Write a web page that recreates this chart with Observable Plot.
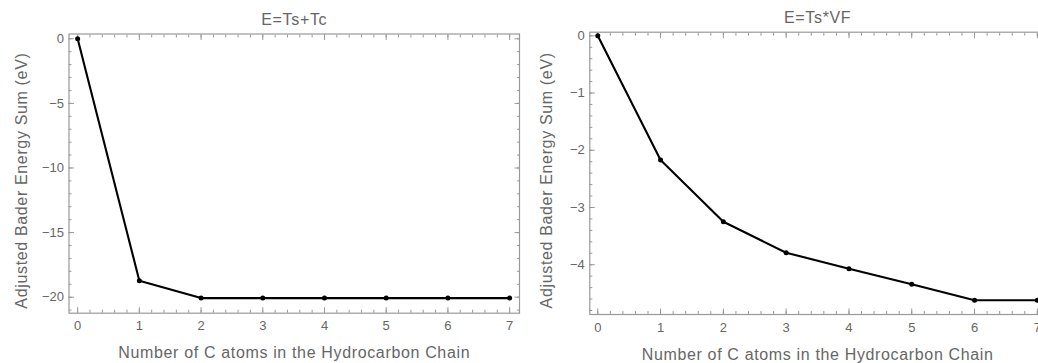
<!DOCTYPE html>
<html>
<head>
<meta charset="utf-8">
<script src="https://cdn.jsdelivr.net/npm/d3@7"></script>
<script src="https://cdn.jsdelivr.net/npm/@observablehq/plot@0.6"></script>
<style>
  html, body { margin: 0; padding: 0; background: #fff; overflow: hidden; }
  #wrap { position: relative; width: 1038px; height: 363px; overflow: hidden; }
  #wrap > div, #wrap > svg { position: absolute; top: 0; }
</style>
</head>
<body>
<div id="wrap"></div>
<script>
// ---- data ----
const carbonAtoms = [0, 1, 2, 3, 4, 5, 6, 7];
const energyTsTc = [0, -18.73, -20.07, -20.07, -20.07, -20.07, -20.07, -20.07];
const energyTsVF = [0, -2.17, -3.25, -3.79, -4.07, -4.34, -4.62, -4.62];
const titles = ["E=Ts+Tc", "E=Ts*VF"];
const xLabel = "Number of C atoms in the Hydrocarbon Chain";
const yLabel = "Adjusted Bader Energy Sum (eV)";
const xMajorTicks = [0, 1, 2, 3, 4, 5, 6, 7];
const yMajorTicksA = [0, -5, -10, -15, -20];
const yMajorTicksB = [0, -1, -2, -3, -4];

const FONT = "'Liberation Sans', Arial, Helvetica, sans-serif";
const GRAY = "#999";
const TEXT = "#666";

function rangeIn(domain, step) {
  const [a, b] = domain;
  const out = [];
  const start = Math.ceil(a / step - 1e-9), end = Math.floor(b / step + 1e-9);
  for (let i = start; i <= end; i++) out.push(+(i * step).toFixed(6));
  return out;
}

function panel(o) {
  const data = carbonAtoms.map((x, i) => ({x, y: o.values[i]}));
  const xMinor = rangeIn(o.xDomain, 0.2);
  const yMinor = rangeIn(o.yDomain, o.yMinorStep);
  const tickCommon = {text: null, label: null, stroke: GRAY, strokeWidth: 1};
  const fmt = d3.format("d");
  const svg = Plot.plot({
    width: o.width, height: 363,
    marginLeft: o.mL, marginRight: o.mR, marginTop: o.mT, marginBottom: 363 - o.bottom,
    x: {domain: o.xDomain},
    y: {domain: o.yDomain},
    style: {fontFamily: FONT, color: TEXT, background: "transparent", overflow: "visible"},
    marks: [
      // inward ticks on all four sides
      Plot.axisX(xMinor, {anchor: "bottom", tickSize: -3, ...tickCommon}),
      Plot.axisX(xMajorTicks, {anchor: "bottom", tickSize: -5.5, ...tickCommon}),
      Plot.axisX(xMinor, {anchor: "top", tickSize: -3, ...tickCommon}),
      Plot.axisX(xMajorTicks, {anchor: "top", tickSize: -5.5, ...tickCommon}),
      Plot.axisY(yMinor, {anchor: "left", tickSize: -3, ...tickCommon}),
      Plot.axisY(o.yMajor, {anchor: "left", tickSize: -5.5, ...tickCommon}),
      Plot.axisY(yMinor, {anchor: "right", tickSize: -3, ...tickCommon}),
      Plot.axisY(o.yMajor, {anchor: "right", tickSize: -5.5, ...tickCommon}),
      // tick labels
      Plot.axisX(xMajorTicks, {anchor: "bottom", tickSize: 0, tickPadding: 8, label: null, fontSize: 13, fill: TEXT, tickFormat: fmt}),
      Plot.axisY(o.yMajor, {anchor: "left", tickSize: 0, tickPadding: 5, label: null, fontSize: 13, fill: TEXT, tickFormat: fmt}),
      Plot.frame({stroke: GRAY, strokeWidth: 1.2}),
      // series
      Plot.line(data, {x: "x", y: "y", stroke: "#000", strokeWidth: 2.1}),
      Plot.dot(data, {x: "x", y: "y", r: 2.5, fill: "#000"}),
      // texts
      Plot.text([o.title], {frameAnchor: "top", dy: o.titleDy, text: d => d, fontSize: 16, fill: TEXT, textAnchor: "middle", lineAnchor: "middle"}),
      Plot.text([xLabel], {frameAnchor: "bottom", dy: 40, text: d => d, fontSize: 16, fill: TEXT, textAnchor: "middle", lineAnchor: "middle"}),
      Plot.text([yLabel], {frameAnchor: "left", dx: o.yLabelDx, dy: 7, rotate: -90, text: d => d, fontSize: 16, fill: TEXT, textAnchor: "middle", lineAnchor: "middle"})
    ]
  });
  d3.select(svg).selectAll('g[aria-label="text"] text').style("letter-spacing", "0.65px");
  return svg;
}

const wrap = document.getElementById("wrap");

const left = panel({
  values: energyTsTc, title: titles[0],
  width: 522, mL: 68.5, mR: 3, mT: 33.5, bottom: 312.7,
  xDomain: [-0.14, 7.16], yDomain: [-21.24, 0.37],
  yMajor: yMajorTicksA, yMinorStep: 1,
  titleDy: -13.8, yLabelDx: -47.5
});
left.style.left = "0px";
wrap.appendChild(left);

const right = panel({
  values: energyTsVF, title: titles[1],
  width: 530, mL: 69.3, mR: 5, mT: 31.7, bottom: 314,
  xDomain: [-0.127, 7.13], yDomain: [-4.87, 0.063],
  yMajor: yMajorTicksB, yMinorStep: 0.2,
  titleDy: -14.2, yLabelDx: -43
});
right.style.left = "520px";
wrap.appendChild(right);
</script>
</body>
</html>
